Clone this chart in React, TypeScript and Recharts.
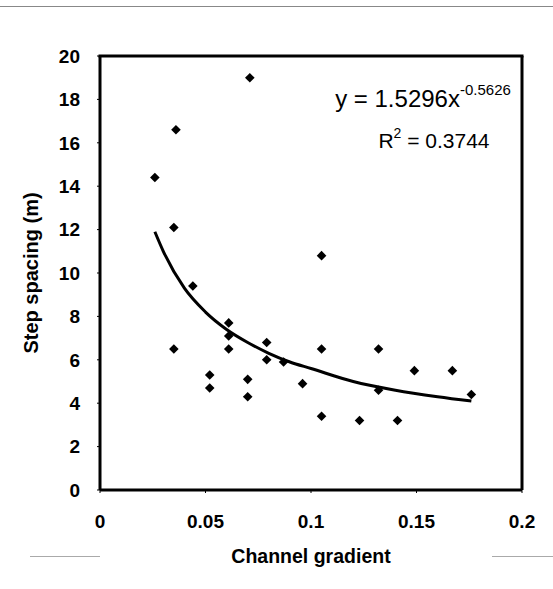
import { ScatterChart, Scatter, XAxis, YAxis, Label } from 'recharts'

// measured points: channel gradient vs step spacing (m)
const gradient = [
  0.026, 0.035, 0.036, 0.035, 0.044, 0.052, 0.052, 0.061, 0.061, 0.061, 0.07, 0.07, 0.071, 0.079,
  0.079, 0.087, 0.096, 0.105, 0.105, 0.105, 0.123, 0.132, 0.132, 0.141, 0.149, 0.167, 0.176,
]
const spacing = [
  14.4, 12.1, 16.6, 6.5, 9.4, 5.3, 4.7, 7.7, 7.1, 6.5, 5.1, 4.3, 19.0, 6.8,
  6.0, 5.9, 4.9, 10.8, 6.5, 3.4, 3.2, 6.5, 4.6, 3.2, 5.5, 5.5, 4.4,
]

// power trend line
const trendX = [0.026, 0.03, 0.04, 0.05, 0.06, 0.07, 0.08, 0.09, 0.1, 0.12, 0.14, 0.16, 0.176]
const trendY = [11.9, 11.0, 9.3, 8.2, 7.4, 6.8, 6.3, 5.9, 5.6, 5.0, 4.6, 4.3, 4.1]

const xTicks = [0, 0.05, 0.1, 0.15, 0.2]
const yTicks = [0, 2, 4, 6, 8, 10, 12, 14, 16, 18, 20]

const points = gradient.map((x, i) => ({ x, y: spacing[i] }))
const trend = trendX.map((x, i) => ({ x, y: trendY[i] }))

const font = '"Liberation Sans", Arial, sans-serif'
const frame = { stroke: '#000', strokeWidth: 3 }

// plot box, matches the chart margins below
const W = 553
const H = 589
const m = { top: 56, right: 31, left: 100, bottom: 99 }

function Diamond({ cx, cy }: { cx?: number; cy?: number }) {
  if (cx == null || cy == null) return <g />
  const r = 4.8
  return <path d={`M${cx},${cy - r}L${cx + r},${cy}L${cx},${cy + r}L${cx - r},${cy}Z`} fill="#000" />
}

export default function App() {
  const right = W - m.right
  const bottom = H - m.bottom
  return (
    <div style={{ position: 'absolute', left: 0, top: 0, width: W, height: H, background: '#fff' }}>
      <div style={{ position: 'absolute', left: 0, top: 6, width: W, height: 0, borderTop: '1.5px solid #888' }} />
      <div style={{ position: 'absolute', left: 30, top: 556, width: 70, height: 0, borderTop: '1px solid #aaa' }} />
      <div style={{ position: 'absolute', left: 492, top: 556, width: 61, height: 0, borderTop: '1px solid #aaa' }} />
      <ScatterChart width={W} height={H} margin={{ top: m.top, right: m.right, left: 0, bottom: 0 }}>
        <XAxis
          type="number"
          dataKey="x"
          domain={[0, 0.2]}
          ticks={xTicks}
          tickFormatter={(v: number) => String(v)}
          axisLine={frame}
          tickLine={{ stroke: '#000' }}
          tickSize={3}
          tickMargin={22}
          height={m.bottom}
          tick={{ fill: '#000', fontSize: 19, fontWeight: 'bold', fontFamily: font }}
        >
          <Label
            value="Channel gradient"
            position="insideTop"
            offset={59}
            style={{ fill: '#000', fontSize: 19.5, fontWeight: 'bold', fontFamily: font }}
          />
        </XAxis>
        <YAxis
          type="number"
          dataKey="y"
          domain={[0, 20]}
          ticks={yTicks}
          axisLine={frame}
          tickLine={{ stroke: '#000' }}
          tickSize={3}
          tickMargin={17}
          width={m.left}
          tick={{ fill: '#000', fontSize: 19, fontWeight: 'bold', fontFamily: font }}
        >
          <Label
            value="Step spacing (m)"
            angle={-90}
            position="insideLeft"
            offset={31}
            style={{ fill: '#000', fontSize: 20, fontWeight: 'bold', fontFamily: font, textAnchor: 'middle' }}
          />
        </YAxis>
        <Scatter
          data={trend}
          line={{ stroke: '#000', strokeWidth: 3 }}
          lineType="joint"
          lineJointType="monotoneX"
          shape={() => <g />}
          isAnimationActive={false}
        />
        <Scatter data={points} shape={<Diamond />} isAnimationActive={false} />
      </ScatterChart>
      <svg width={W} height={H} style={{ position: 'absolute', left: 0, top: 0, pointerEvents: 'none' }}>
        <line x1={m.left - 1.5} y1={m.top} x2={right + 1.5} y2={m.top} stroke="#000" strokeWidth={3} />
        <line x1={right} y1={m.top} x2={right} y2={bottom} stroke="#000" strokeWidth={3} />
        <text x={423} y={107} textAnchor="middle" fontFamily={font} fontSize={24} fill="#000">
          y = 1.5296x<tspan fontSize={15} dy={-12}>-0.5626</tspan>
        </text>
        <text x={434} y={148} textAnchor="middle" fontFamily={font} fontSize={21} fill="#000">
          R<tspan fontSize={14} dy={-10}>2</tspan>
          <tspan dy={10}> = 0.3744</tspan>
        </text>
      </svg>
    </div>
  )
}
